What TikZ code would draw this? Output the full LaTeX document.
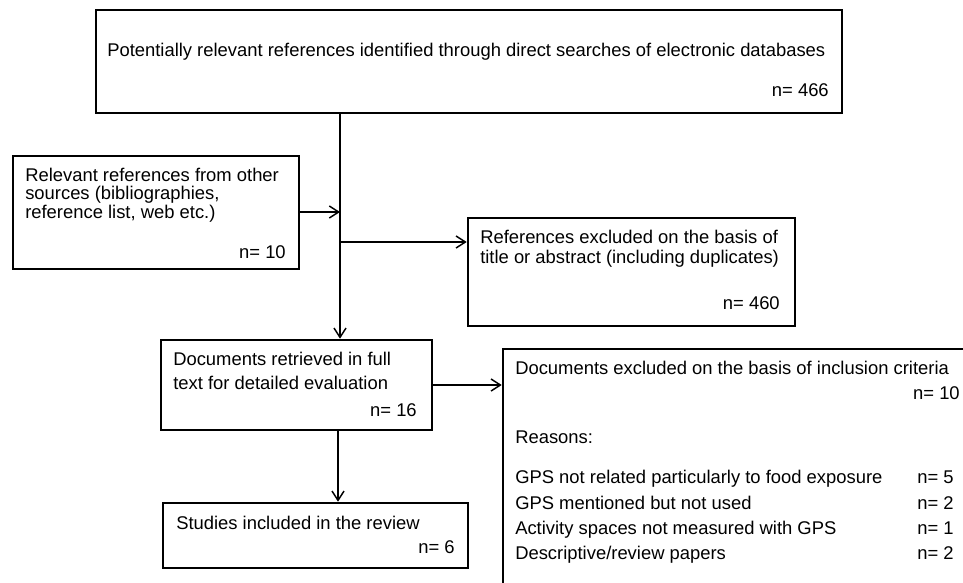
\documentclass[tikz,border=0pt]{standalone}
\usepackage{fontspec}
\setmainfont{Liberation Sans}
\usetikzlibrary{fit,arrows.meta}
\tikzset{
  box/.style={draw=black, line width=1.9pt, inner sep=0pt, fill=none},
  txt/.style={inner sep=0pt, font=\fontsize{13.8}{16}\selectfont},
  conn/.style={draw=black, line width=1.2pt, -{Straight Barb[length=7pt,width=9pt,line width=1.1pt]}},
  plain/.style={draw=black, line width=1.2pt}
}
\begin{document}
\begin{tikzpicture}[x=0.75pt,y=-0.75pt]
\useasboundingbox (0,0) rectangle (963,582);
\clip (0,0) rectangle (963,582);
\fill[white] (0,0) rectangle (963,582);
% boxes
\node[box, fit={(96,10) (842,113)}] (top) {};
\node[box, fit={(13,156) (299,269)}] (other) {};
\node[box, fit={(468,218) (795,326)}] (excl) {};
\node[box, fit={(161,340) (432,430)}] (docs) {};
\node[box, fit={(163,503) (468,568)}] (studies) {};
\node[box, fit={(503,349) (1010,640)}] (incl) {};
% texts
\node[txt, anchor=base west] (t1) at (107,56) {Potentially relevant references identified through direct searches of electronic databases};
\node[txt, anchor=base east] (n1) at (829,96) {n= 466};
\node[txt, anchor=base west] (t2a) at (25,181) {Relevant references from other};
\node[txt, anchor=base west] (t2b) at (25,199) {sources (bibliographies,};
\node[txt, anchor=base west] (t2c) at (25,218) {reference list, web etc.)};
\node[txt, anchor=base east] (n2) at (286,258) {n= 10};
\node[txt, anchor=base west] (t3a) at (480,243) {References excluded on the basis of};
\node[txt, anchor=base west] (t3b) at (480,263) {title or abstract (including duplicates)};
\node[txt, anchor=base east] (n3) at (780,309) {n= 460};
\node[txt, anchor=base west] (t4a) at (173,365) {Documents retrieved in full};
\node[txt, anchor=base west] (t4b) at (173,389) {text for detailed evaluation};
\node[txt, anchor=base east] (n4) at (417,416) {n= 16};
\node[txt, anchor=base west] (t5) at (176,529) {Studies included in the review};
\node[txt, anchor=base east] (n5) at (455,553) {n= 6};
\node[txt, anchor=base west] (t6) at (515,374) {Documents excluded on the basis of inclusion criteria};
\node[txt, anchor=base east] (n6) at (960,399) {n= 10};
\node[txt, anchor=base west] (t6r) at (515,443) {Reasons:};
\node[txt, anchor=base west] (r1) at (515,483) {GPS not related particularly to food exposure};
\node[txt, anchor=base west] (r2) at (515,509) {GPS mentioned but not used};
\node[txt, anchor=base west] (r3) at (515,534) {Activity spaces not measured with GPS};
\node[txt, anchor=base west] (r4) at (515,559) {Descriptive/review papers};
\node[txt, anchor=base west] (rn1) at (917,483) {n= 5};
\node[txt, anchor=base west] (rn2) at (917,509) {n= 2};
\node[txt, anchor=base west] (rn3) at (917,534) {n= 1};
\node[txt, anchor=base west] (rn4) at (917,559) {n= 2};
% junctions
\coordinate (jtop) at (340,113);
\coordinate (jin) at (340,212);
\coordinate (jout) at (340,242);
% connectors
\draw[conn] (jtop) -- (jtop |- docs.north);
\draw[conn] (other.east |- jin) -- (jin);
\draw[conn] (jout) -- (jout -| excl.west);
\draw[conn] (docs.east |- 0,385) -- (incl.west |- 0,385);
\draw[conn] (docs.south -| 338,0) -- (studies.north -| 338,0);
\end{tikzpicture}
\end{document}
